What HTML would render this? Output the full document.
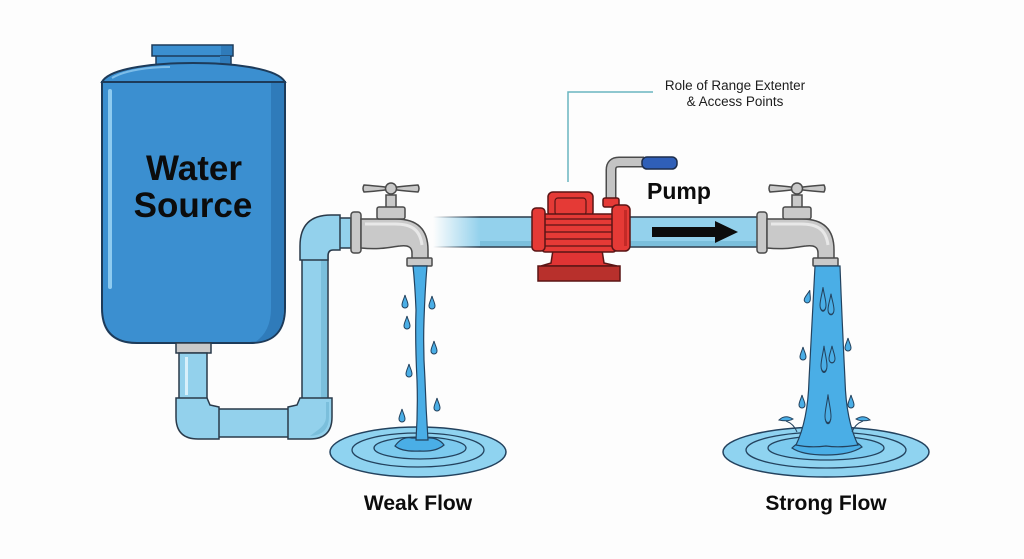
<!DOCTYPE html>
<html><head><meta charset="utf-8"><style>
html,body{margin:0;padding:0;background:#fdfdfd;}
svg{display:block;}
text{font-family:"Liberation Sans",Arial,sans-serif;}
</style></head><body>
<svg width="1024" height="559" viewBox="0 0 1024 559" xmlns="http://www.w3.org/2000/svg">
<defs>
<linearGradient id="fade" x1="433" x2="480" y1="0" y2="0" gradientUnits="userSpaceOnUse">
<stop offset="0" stop-color="#93d1ec" stop-opacity="0"/>
<stop offset="1" stop-color="#93d1ec" stop-opacity="1"/>
</linearGradient>
<linearGradient id="fadeL" x1="433" x2="480" y1="0" y2="0" gradientUnits="userSpaceOnUse">
<stop offset="0" stop-color="#2a3a4a" stop-opacity="0"/>
<stop offset="1" stop-color="#2a3a4a" stop-opacity="1"/>
</linearGradient>
<g id="faucet">
<rect x="351" y="212" width="10" height="41" rx="3" fill="#c9c9c9" stroke="#4a4a4a" stroke-width="1.5"/>
<path d="M361,219 L396,219 C420,219 428,232 428,250 L428,259 L412,259 L412,253 C412,247 408,245 400,246 C390,247 380,250 361,248 Z" fill="#c9c9c9" stroke="#4a4a4a" stroke-width="1.5"/>
<path d="M365,224 L395,224 C412,224 420,230 422,245" fill="none" stroke="#e8e8e8" stroke-width="3"/>
<rect x="386" y="195" width="10" height="13" fill="#c9c9c9" stroke="#4a4a4a" stroke-width="1.5"/>
<rect x="377" y="207" width="28" height="12" rx="2" fill="#c9c9c9" stroke="#4a4a4a" stroke-width="1.5"/>
<path d="M364,185 Q377,186 385,187 L397,187 Q405,186 418,185 Q420,188.5 418,192 Q405,191 397,190 L385,190 Q377,191 364,192 Q362,188.5 364,185 Z" fill="#c9c9c9" stroke="#4a4a4a" stroke-width="1.5"/>
<circle cx="391" cy="188.5" r="5.5" fill="#c9c9c9" stroke="#4a4a4a" stroke-width="1.5"/>
<rect x="407" y="258" width="25" height="8" rx="1" fill="#c9c9c9" stroke="#4a4a4a" stroke-width="1.5"/>
</g>
<path id="drop" d="M0,-7 C1,-3 3,0 3,3 A3,3 0 0 1 -3,3 C-3,0 -1,-3 0,-7 Z"/>
</defs>

<!-- ===== Tank ===== -->
<rect x="156" y="54" width="75" height="11" fill="#3b8fd0" stroke="#1d3b5a" stroke-width="1.5"/>
<rect x="152" y="45" width="81" height="11" fill="#3b8fd0" stroke="#1d3b5a" stroke-width="1.5"/>
<rect x="221" y="46" width="11" height="9" fill="#2f7bba"/>
<rect x="220" y="56" width="10" height="8" fill="#2f7bba"/>
<path d="M102,82 L102,308 Q102,343 137,343 L250,343 Q285,343 285,308 L285,82 Z" fill="#3b8fd0" stroke="#1d3b5a" stroke-width="2"/>
<path d="M271,83 L284,83 L284,308 Q284,340 255,342 Q271,332 271,308 Z" fill="#2f7bba"/>
<path d="M102,82 C110,67 160,63 193,63 C226,63 277,67 285,82 Z" fill="#3b8fd0" stroke="#1d3b5a" stroke-width="2"/>
<path d="M112,78 C125,70 150,67 170,67" fill="none" stroke="#7dbde9" stroke-width="2"/>
<rect x="108" y="89" width="4" height="200" rx="2" fill="#8ecbf0"/>
<text x="194" y="180" font-size="35" font-weight="bold" fill="#0c0c0c" text-anchor="middle">Water</text>
<text x="193" y="217" font-size="35" font-weight="bold" fill="#0c0c0c" text-anchor="middle">Source</text>

<!-- ===== Left pipes ===== -->
<rect x="176" y="343" width="35" height="10" fill="#c9c9c9" stroke="#2a3a4a" stroke-width="1.5"/>
<rect x="179" y="353" width="28" height="50" fill="#93d1ec" stroke="#2a3a4a" stroke-width="1.5"/>
<rect x="185" y="357" width="3" height="38" fill="#d7f0fb"/>
<rect x="214" y="409" width="80" height="28" fill="#93d1ec" stroke="#2a3a4a" stroke-width="1.5"/>
<!-- right vertical -->
<rect x="302" y="255" width="26" height="148" fill="#93d1ec" stroke="#2a3a4a" stroke-width="1.5"/>
<rect x="321" y="257" width="6" height="144" fill="#7bbfdc"/>
<!-- bottom-left elbow -->
<path d="M176,398 L207,398 L210,405 L219,407 L219,439 L198,439 Q176,439 176,417 Z" fill="#93d1ec" stroke="#2a3a4a" stroke-width="1.5"/>
<!-- bottom-right elbow -->
<path d="M300,398 L332,398 L332,417 Q332,439 310,439 L288,439 L288,407 L297,405 Z" fill="#93d1ec" stroke="#2a3a4a" stroke-width="1.5"/>
<path d="M326,402 L329,402 L329,417 Q329,435 310,436 L318,430 Q326,424 326,417 Z" fill="#7bbfdc"/>
<!-- top elbow -->
<rect x="338" y="218" width="13" height="30" fill="#93d1ec" stroke="#2a3a4a" stroke-width="1.5"/>
<path d="M300,260 L300,246 Q300,215 331,215 L340,215 L340,250 L333,250 Q328,250 328,256 L328,260 Z" fill="#93d1ec" stroke="#2a3a4a" stroke-width="1.5"/>

<!-- ===== Middle pipe ===== -->
<rect x="433" y="217" width="326" height="30" fill="url(#fade)"/>
<line x1="433" y1="217" x2="759" y2="217" stroke="url(#fadeL)" stroke-width="1.5"/>
<line x1="433" y1="247" x2="759" y2="247" stroke="url(#fadeL)" stroke-width="1.5"/>
<rect x="480" y="241" width="279" height="5" fill="#7bbfdc"/>

<!-- ===== Annotation ===== -->
<polyline points="653,92 568,92 568,182" fill="none" stroke="#6ab5c0" stroke-width="1.5"/>
<text x="735" y="90" font-size="13.5" fill="#1e1e1e" text-anchor="middle">Role of Range Extenter</text>
<text x="735" y="106" font-size="13.5" fill="#1e1e1e" text-anchor="middle">&amp; Access Points</text>

<!-- ===== Pump ===== -->
<path d="M611,198 L611,170 Q611,162 619,162 L644,162" fill="none" stroke="#4a4a4a" stroke-width="11" stroke-linecap="butt"/>
<path d="M611,198 L611,170 Q611,162 619,162 L644,162" fill="none" stroke="#c4c4c4" stroke-width="8"/>
<rect x="642" y="157" width="35" height="12" rx="5" fill="#2f5fb8" stroke="#1d2d4a" stroke-width="1.5"/>
<path d="M553,250 L602,250 L604,263 L617,266 L541,266 L551,263 Z" fill="#e03434" stroke="#5a1515" stroke-width="1.5"/>
<rect x="538" y="266" width="82" height="15" fill="#b8302c" stroke="#5a1515" stroke-width="1.5"/>
<rect x="548" y="192" width="45" height="25" rx="5" fill="#e53a36" stroke="#5a1515" stroke-width="1.5"/>
<rect x="555" y="198" width="31" height="17" rx="3" fill="#e53a36" stroke="#5a1515" stroke-width="1.2"/>
<rect x="603" y="198" width="16" height="9" rx="2" fill="#e53a36" stroke="#5a1515" stroke-width="1.5"/>
<rect x="542" y="214" width="74" height="38" rx="3" fill="#e53a36" stroke="#5a1515" stroke-width="1.5"/>
<line x1="543" y1="219" x2="615" y2="219" stroke="#5a1515" stroke-width="1.3"/>
<line x1="543" y1="225" x2="615" y2="225" stroke="#5a1515" stroke-width="1.3"/>
<line x1="543" y1="232" x2="615" y2="232" stroke="#5a1515" stroke-width="1.3"/>
<line x1="543" y1="239" x2="615" y2="239" stroke="#5a1515" stroke-width="1.3"/>
<line x1="543" y1="246" x2="615" y2="246" stroke="#5a1515" stroke-width="1.3"/>
<rect x="532" y="208" width="13" height="43" rx="4" fill="#e53a36" stroke="#5a1515" stroke-width="1.5"/>
<rect x="612" y="205" width="18" height="46" rx="5" fill="#e53a36" stroke="#5a1515" stroke-width="1.5"/>
<rect x="624" y="210" width="3" height="36" fill="#c32a27"/>

<text x="647" y="199" font-size="23" font-weight="bold" fill="#0c0c0c">Pump</text>
<rect x="652" y="227" width="66" height="10" fill="#0c0c0c"/>
<polygon points="715,221 738,232 715,243" fill="#0c0c0c"/>

<!-- ===== Faucets ===== -->
<use href="#faucet"/>
<use href="#faucet" transform="translate(406,0)"/>

<!-- ===== Left pool & stream ===== -->
<ellipse cx="418" cy="452" rx="88" ry="25" fill="#8fd3f0" stroke="#23425e" stroke-width="1.5"/>
<ellipse cx="418" cy="450" rx="66" ry="17" fill="none" stroke="#23425e" stroke-width="1.3"/>
<ellipse cx="420" cy="448" rx="46" ry="11" fill="#7ccaee" stroke="#23425e" stroke-width="1.3"/>
<path d="M395,446 Q402,436 412,438 L426,438 Q438,437 444,445 Q436,452 420,451 Q402,452 395,446 Z" fill="#4aaee6" stroke="#23425e" stroke-width="1.2"/>
<path d="M413,266 L427,266 Q425,290 424,320 Q423,350 425,380 Q426,410 428,440 L416,440 Q418,410 417,380 Q415,340 416,310 Q415,285 413,266 Z" fill="#4aaee6" stroke="#23425e" stroke-width="1.2"/>
<g fill="#4aaee6" stroke="#23425e" stroke-width="1">
<use href="#drop" transform="translate(405,302)"/>
<use href="#drop" transform="translate(432,303)"/>
<use href="#drop" transform="translate(407,323)"/>
<use href="#drop" transform="translate(434,348)"/>
<use href="#drop" transform="translate(409,371)"/>
<use href="#drop" transform="translate(437,405)"/>
<use href="#drop" transform="translate(402,416)"/>
</g>
<text x="418" y="510" font-size="21" font-weight="bold" fill="#0c0c0c" text-anchor="middle">Weak Flow</text>

<!-- ===== Right pool & stream ===== -->
<ellipse cx="826" cy="452" rx="103" ry="25" fill="#8fd3f0" stroke="#23425e" stroke-width="1.5"/>
<ellipse cx="826" cy="450" rx="80" ry="18" fill="none" stroke="#23425e" stroke-width="1.3"/>
<ellipse cx="826" cy="448" rx="58" ry="12" fill="#7ccaee" stroke="#23425e" stroke-width="1.3"/>
<path d="M792,448 Q800,440 812,438 L842,438 Q856,440 862,447 Q850,455 826,455 Q802,455 792,448 Z" fill="#4aaee6" stroke="#23425e" stroke-width="1.2"/>
<path d="M815,266 L840,266 Q842,320 845,380 Q846,420 858,445 Q840,448 826,446 Q810,448 796,445 Q808,420 809,380 Q812,320 815,266 Z" fill="#4aaee6" stroke="#23425e" stroke-width="1.2"/>
<g fill="none" stroke="#23425e" stroke-width="1">
<use href="#drop" transform="translate(823,300) scale(1,1.8)"/>
<use href="#drop" transform="translate(831,305) scale(1,1.6)"/>
<use href="#drop" transform="translate(824,360) scale(1,2)"/>
<use href="#drop" transform="translate(832,355) scale(1,1.3)"/>
<use href="#drop" transform="translate(828,410) scale(1,2.2)"/>
</g>
<g fill="#4aaee6" stroke="#23425e" stroke-width="1">
<use href="#drop" transform="translate(808,297) rotate(15)"/>
<use href="#drop" transform="translate(803,354)"/>
<use href="#drop" transform="translate(848,345)"/>
<use href="#drop" transform="translate(802,402)"/>
<use href="#drop" transform="translate(851,402)"/>
<path d="M779,420 Q785,414 793,419 Q788,422 779,420 Z"/>
<path d="M870,420 Q864,414 856,419 Q861,422 870,420 Z"/>
</g>
<path d="M786,421 Q794,424 797,432" fill="none" stroke="#23425e" stroke-width="1"/>
<path d="M863,421 Q855,424 852,432" fill="none" stroke="#23425e" stroke-width="1"/>
<text x="826" y="510" font-size="21" font-weight="bold" fill="#0c0c0c" text-anchor="middle">Strong Flow</text>
</svg>
</body></html>
